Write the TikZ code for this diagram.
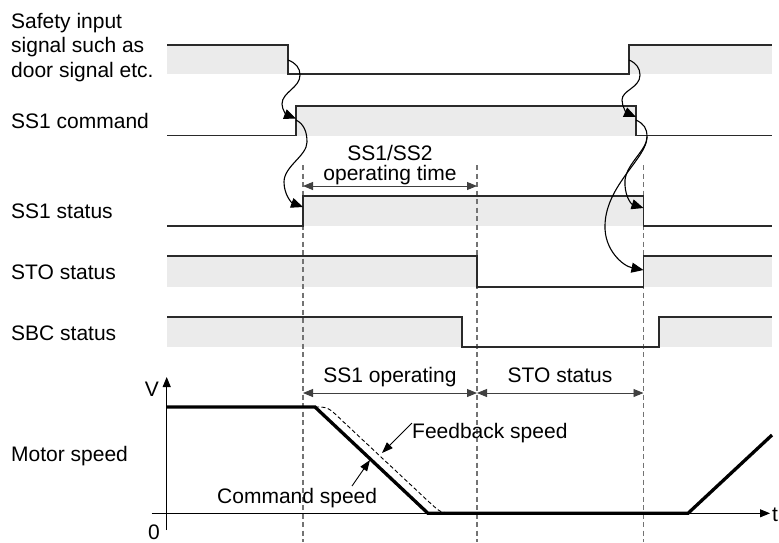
\documentclass[tikz,border=0pt]{standalone}
\usepackage{fontspec}
\setmainfont{Liberation Sans}
\usetikzlibrary{arrows.meta}
\definecolor{bandgray}{HTML}{EBEBEB}
\definecolor{linedark}{HTML}{2A2A2A}
\begin{document}
\begin{tikzpicture}[x=1pt,y=-1pt,
  sig/.style={line width=1.4pt, draw=linedark, line join=miter},
  vdash/.style={draw=black!55, line width=1.3pt, dash pattern=on 5pt off 3.5pt},
  snake/.style={line width=1.1pt, draw=black, -{Triangle[length=12pt,width=10pt]}},
  span/.style={line width=0.9pt, draw=black!75, {Triangle[length=10pt,width=8pt]}-{Triangle[length=10pt,width=8pt]}},
  lbl/.style={inner sep=0pt, anchor=base west, font=\fontsize{21}{24}\selectfont},
  ctext/.style={inner sep=0pt, anchor=base, font=\fontsize{21}{24}\selectfont},
  speed/.style={line width=3.3pt, draw=black, line join=miter},
  axis/.style={line width=1pt, draw=black, -{Triangle[length=10pt,width=8pt]}},
  pointer/.style={line width=0.9pt, draw=black, -{Triangle[length=11pt,width=8pt]}}
]
\useasboundingbox (0,0) rectangle (779,542);

% left labels
\node[lbl] (l1a) at (11,28) {Safety input};
\node[lbl] (l1b) at (11,52.5) {signal such as};
\node[lbl] (l1c) at (11,77) {door signal etc.};
\node[lbl] (l2) at (11,128.3) {SS1 command};
\node[lbl] (l3) at (11,218.5) {SS1 status};
\node[lbl] (l4) at (11,279.5) {STO status};
\node[lbl] (l5) at (11,340) {SBC status};
\node[lbl] (l6) at (11,461) {Motor speed};

% bands
\fill[bandgray] (167,45) rectangle (288,74);
\fill[bandgray] (629,45) rectangle (772,74);
\fill[bandgray] (296,106) rectangle (636,135.5);
\fill[bandgray] (303,196) rectangle (643.5,226);
\fill[bandgray] (167,256) rectangle (477,287);
\fill[bandgray] (643.5,256) rectangle (772,287);
\fill[bandgray] (167,317) rectangle (462,347);
\fill[bandgray] (659,317) rectangle (772,347);

% dashed verticals
\coordinate (d1t) at (303,165); \coordinate (d1b) at (303,542);
\coordinate (d2t) at (477,165); \coordinate (d2b) at (477,542);
\coordinate (d3t) at (643.5,165); \coordinate (d3b) at (643.5,542);
\draw[vdash] (d1t) -- (d1b);
\draw[vdash] (d2t) -- (d2b);
\draw[vdash] (d3t) -- (d3b);

% signals
\draw[sig] (167,45) -- (288,45) -- (288,74) -- (629,74) -- (629,45) -- (772,45);
\draw[sig] (167,135.5) -- (296,135.5) -- (296,106) -- (636,106) -- (636,135.5) -- (772,135.5);
\draw[sig] (167,226) -- (303,226) -- (303,196) -- (643.5,196) -- (643.5,226) -- (772,226);
\draw[sig] (167,256) -- (477,256) -- (477,287) -- (643.5,287) -- (643.5,256) -- (772,256);
\draw[sig] (167,317) -- (462,317) -- (462,347) -- (659,347) -- (659,317) -- (772,317);

% snake arrows
\draw[snake] (288,60) .. controls (296,63) and (300,68) .. (300,75)
  .. controls (300,88) and (282,92) .. (282,104)
  .. controls (282,110) and (287,115) .. (296,118.5);
\draw[snake] (296,120) .. controls (304,124) and (307,132) .. (307,142)
  .. controls (307,156) and (284,166) .. (284,182)
  .. controls (284,195) and (292,203) .. (303,207);
\draw[snake] (629,60) .. controls (636,63) and (640,68) .. (640,75)
  .. controls (640,88) and (622,90) .. (622,100)
  .. controls (622,107) and (627,113) .. (636,117);
\draw[snake] (636,120) .. controls (644,124) and (647,128) .. (647,137)
  .. controls (647,150) and (627,163) .. (625,180)
  .. controls (624,195) and (631,204) .. (643.5,208);
\draw[snake] (647,137) .. controls (647,158) and (606,185) .. (605,225)
  .. controls (604,250) and (623,266) .. (643.5,270);

% operating time
\node[ctext] (ss12) at (390,160.5) {SS1/SS2};
\node[ctext] (opt) at (390,180.7) {operating time};
\draw[span] (d1t |- 0,186) -- (d2t |- 0,186);

% motor speed axes
\coordinate (vb) at (166.7,530); \coordinate (vt) at (166.7,377);
\coordinate (hl) at (151.7,513.3); \coordinate (hr) at (770,513.3);
\draw[axis] (vb) -- (vt);
\draw[axis] (hl) -- (hr);
\node[ctext] (V) at (152,396) {V};
\node[ctext] (zero) at (154,539) {0};
\node[lbl] (t) at (772,521) {t};

% spans
\draw[span] (303,393) -- (477,393);
\draw[span] (477,393) -- (643.5,393);
\node[ctext] (ss1op) at (390,382) {SS1 operating};
\node[ctext] (stost) at (560,382) {STO status};

% speed curves
\draw[line width=0.9pt, dash pattern=on 4pt off 2.5pt] (315,407) .. controls (328,407) .. (342,420.5)
  -- (428,501) .. controls (441,513) .. (453,513);
\draw[speed] (167,407) -- (315,407) -- (428,513.3) -- (688,513.3) -- (772,435);

% speed labels
\node[lbl] (fb) at (412,438.5) {Feedback speed};
\node[lbl] (cs) at (217,503.3) {Command speed};
\coordinate (fbtip) at (382,453);
\coordinate (cstip) at (370,460);
\coordinate (csstart) at (352,486);
\draw[pointer] (fb.north west) -- (fbtip);
\draw[pointer] (csstart) -- (cstip);
\end{tikzpicture}
\end{document}
